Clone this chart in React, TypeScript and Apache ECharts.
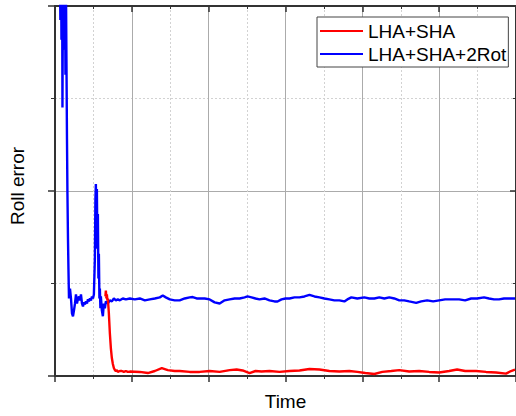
import React, { useEffect, useRef } from "react";
import * as echarts from "echarts";

const seriesNames = ["LHA+SHA", "LHA+SHA+2Rot"];
const xTitle = "Time";
const yTitle = "Roll error";

const timeBlue = [
  0.55, 0.70, 0.78, 0.84, 0.91, 0.97, 1.04, 1.10, 1.17, 1.23, 1.30, 1.36, 1.43, 1.49, 1.56, 1.62, 1.69, 1.75, 1.82,
  1.95, 2.08, 2.21, 2.34, 2.47, 2.60, 2.73, 2.86, 2.99, 3.12, 3.25, 3.38, 3.51, 3.64, 3.77, 3.90, 4.03, 4.16, 4.29,
  4.42, 4.55, 4.68, 4.81, 4.94, 5.06, 5.19, 5.26, 5.32, 5.39, 5.45, 5.52, 5.58, 5.65, 5.71, 5.78, 5.84, 5.91, 5.97,
  6.10, 6.23, 6.36, 6.49, 6.62, 6.88, 7.14, 7.40, 7.66, 7.92, 8.18, 8.44, 8.83, 9.22, 9.74, 10.39, 11.04, 11.69,
  12.34, 12.99, 13.64, 14.03, 14.42, 14.94, 15.58, 16.23, 16.88, 17.53, 17.92, 18.44, 18.83, 19.48, 20.13, 20.78,
  21.43, 22.08, 22.73, 23.38, 24.03, 24.68, 25.06, 25.58, 26.10, 26.62, 27.27, 27.92, 28.57, 28.96, 29.48, 30.00,
  30.52, 31.17, 31.82, 32.47, 33.12, 33.77, 34.42, 35.06, 35.71, 36.36, 37.01, 37.66, 38.05, 38.57, 39.35, 40.26,
  40.91, 41.56, 42.21, 42.86, 43.51, 44.16, 44.81, 45.45, 46.10, 47.01, 47.66, 48.44, 49.22, 50.00, 50.78, 51.56,
  52.60, 53.38, 54.16, 54.94, 55.84, 56.49, 57.14, 57.79, 58.44, 59.09, 59.87,
];
const rollBlue = [
  2.57, 1.925, 2.30, 1.817, 2.46, 1.452, 2.14, 1.763, 2.355, 1.871, 2.247, 1.629, 2.086, 1.71, 1.28, 0.984, 0.742,
  0.581, 0.419, 0.473, 0.419, 0.339, 0.323, 0.355, 0.392, 0.441, 0.392, 0.419, 0.430, 0.409, 0.441, 0.392, 0.376,
  0.398, 0.387, 0.403, 0.392, 0.414, 0.403, 0.419, 0.409, 0.430, 0.419, 0.441, 0.634, 0.957, 1.038, 0.796, 1.011,
  0.688, 0.876, 0.527, 0.661, 0.419, 0.473, 0.366, 0.430, 0.355, 0.323, 0.392, 0.366, 0.403, 0.392, 0.409, 0.403,
  0.419, 0.409, 0.414, 0.409, 0.419, 0.414, 0.419, 0.414, 0.419, 0.409, 0.414, 0.419, 0.425, 0.435, 0.425, 0.414,
  0.409, 0.409, 0.419, 0.425, 0.427, 0.419, 0.419, 0.419, 0.414, 0.398, 0.392, 0.409, 0.414, 0.419, 0.419, 0.425,
  0.430, 0.425, 0.419, 0.414, 0.419, 0.409, 0.403, 0.403, 0.414, 0.419, 0.419, 0.425, 0.425, 0.430, 0.438, 0.430,
  0.425, 0.419, 0.414, 0.409, 0.409, 0.403, 0.414, 0.425, 0.419, 0.425, 0.419, 0.419, 0.425, 0.419, 0.425, 0.419,
  0.409, 0.409, 0.403, 0.395, 0.403, 0.409, 0.403, 0.409, 0.414, 0.414, 0.414, 0.409, 0.419, 0.419, 0.425, 0.419,
  0.414, 0.414, 0.419, 0.419, 0.419,
];

const timeRed = [
  6.56, 6.62, 6.69, 6.75, 6.82, 6.88, 7.01, 7.14, 7.27, 7.40, 7.53, 7.66, 7.79, 7.92, 8.05, 8.18, 8.44, 8.70, 8.96,
  9.22, 9.48, 9.74, 11.04, 12.08, 12.99, 13.90, 14.68, 15.58, 16.23, 17.53, 18.83, 20.13, 21.43, 22.73, 23.64,
  24.42, 25.32, 26.10, 26.88, 27.92, 29.22, 30.52, 31.82, 33.12, 34.42, 35.71, 37.01, 38.31, 39.35, 40.39, 41.56,
  42.60, 43.77, 44.81, 46.10, 47.40, 48.70, 50.00, 51.30, 52.34, 53.38, 54.81, 56.10, 57.40, 58.70, 59.35, 59.87,
];
const rollRed = [
  0.430, 0.462, 0.419, 0.441, 0.409, 0.419, 0.339, 0.231, 0.151, 0.097, 0.065, 0.043, 0.032, 0.027, 0.032, 0.022,
  0.027, 0.027, 0.022, 0.027, 0.022, 0.024, 0.022, 0.016, 0.027, 0.043, 0.032, 0.027, 0.027, 0.022, 0.022, 0.027,
  0.022, 0.032, 0.035, 0.030, 0.016, 0.027, 0.024, 0.027, 0.022, 0.027, 0.030, 0.038, 0.035, 0.027, 0.024, 0.027,
  0.022, 0.016, 0.011, 0.022, 0.027, 0.032, 0.024, 0.027, 0.022, 0.019, 0.027, 0.035, 0.027, 0.027, 0.022, 0.019,
  0.013, 0.027, 0.035,
];

const FONT = "Liberation Sans, Arial, sans-serif";
const AXIS_COLOR = "#333";

export default function App() {
  const ref = useRef<HTMLDivElement>(null);
  useEffect(() => {
    if (!ref.current) return;
    const chart = echarts.init(ref.current, undefined, { renderer: "svg" });
    const blueData = timeBlue.map((t, i) => [t, rollBlue[i]]);
    const redData = timeRed.map((t, i) => [t, rollRed[i]]);
    const gridSplit = { show: true, lineStyle: { color: "#ababab", width: 1, type: "solid" } };
    const gridMinor = { show: true, lineStyle: { color: "#d2d2d2", width: 1, type: [2, 2] } };
    const axisLine = { show: true, onZero: false, lineStyle: { color: AXIS_COLOR, width: 2 } };
    chart.setOption({
      animation: false,
      backgroundColor: "#fff",
      textStyle: { fontFamily: FONT },
      grid: { left: 55, top: 6, width: 462, height: 372, containLabel: false },
      graphic: [
        {
          type: "text",
          x: 17,
          y: 186,
          rotation: Math.PI / 2,
          style: {
            text: yTitle,
            fontFamily: FONT,
            fontSize: 19,
            fill: "#000",
            align: "center",
            verticalAlign: "middle",
          },
        },
      ],
      legend: {
        data: seriesNames,
        orient: "vertical",
        left: 317,
        top: 17,
        padding: [4, 2, 3, 3],
        itemGap: 3,
        itemWidth: 43,
        itemHeight: 2,
        icon: "rect",
        backgroundColor: "#fff",
        borderColor: "#444",
        borderWidth: 1,
        borderRadius: 0,
        textStyle: { fontFamily: FONT, fontSize: 19, color: "#000", lineHeight: 20 },
      },
      xAxis: [
        {
          type: "value",
          position: "bottom",
          min: 0,
          max: 60,
          interval: 10,
          name: xTitle,
          nameLocation: "middle",
          nameGap: 16,
          nameTextStyle: { fontFamily: FONT, fontSize: 19, color: "#000", verticalAlign: "top" },
          axisLine,
          axisTick: { show: true, inside: false, length: 6, lineStyle: { color: AXIS_COLOR, width: 1.5 } },
          minorTick: { show: true, splitNumber: 2, length: 3, lineStyle: { color: AXIS_COLOR, width: 1 } },
          axisLabel: { show: false },
          splitLine: gridSplit,
          minorSplitLine: gridMinor,
        },
        {
          type: "value",
          position: "top",
          min: 0,
          max: 60,
          interval: 10,
          axisLine,
          axisTick: { show: true, inside: true, length: 6, lineStyle: { color: AXIS_COLOR, width: 1.5 } },
          minorTick: { show: true, splitNumber: 2, length: 3, lineStyle: { color: AXIS_COLOR, width: 1 } },
          axisLabel: { show: false },
          splitLine: { show: false },
        },
      ],
      yAxis: [
        {
          type: "value",
          position: "left",
          min: 0,
          max: 2,
          interval: 1,
          axisLine,
          axisTick: { show: true, inside: false, length: 7, lineStyle: { color: AXIS_COLOR, width: 1.5 } },
          minorTick: { show: true, splitNumber: 2, length: 4, lineStyle: { color: AXIS_COLOR, width: 1 } },
          axisLabel: { show: false },
          splitLine: gridSplit,
          minorSplitLine: gridMinor,
        },
        {
          type: "value",
          position: "right",
          min: 0,
          max: 2,
          interval: 1,
          axisLine,
          axisTick: { show: true, inside: true, length: 6, lineStyle: { color: AXIS_COLOR, width: 1.5 } },
          minorTick: { show: true, splitNumber: 2, length: 3, lineStyle: { color: AXIS_COLOR, width: 1 } },
          axisLabel: { show: false },
          splitLine: { show: false },
        },
      ],
      series: [
        {
          name: seriesNames[1],
          type: "line",
          xAxisIndex: 0,
          yAxisIndex: 0,
          data: blueData,
          showSymbol: false,
          symbol: "none",
          clip: true,
          color: "#0000ff",
          lineStyle: { color: "#0000ff", width: 2.4 },
          z: 2,
        },
        {
          name: seriesNames[0],
          type: "line",
          xAxisIndex: 0,
          yAxisIndex: 0,
          data: redData,
          showSymbol: false,
          symbol: "none",
          clip: true,
          color: "#ff0000",
          lineStyle: { color: "#ff0000", width: 2.4 },
          z: 3,
        },
      ],
    });
    return () => chart.dispose();
  }, []);
  return (
    <div
      ref={ref}
      style={{ position: "absolute", left: 0, top: 0, width: 516, height: 416, background: "#fff" }}
    />
  );
}
